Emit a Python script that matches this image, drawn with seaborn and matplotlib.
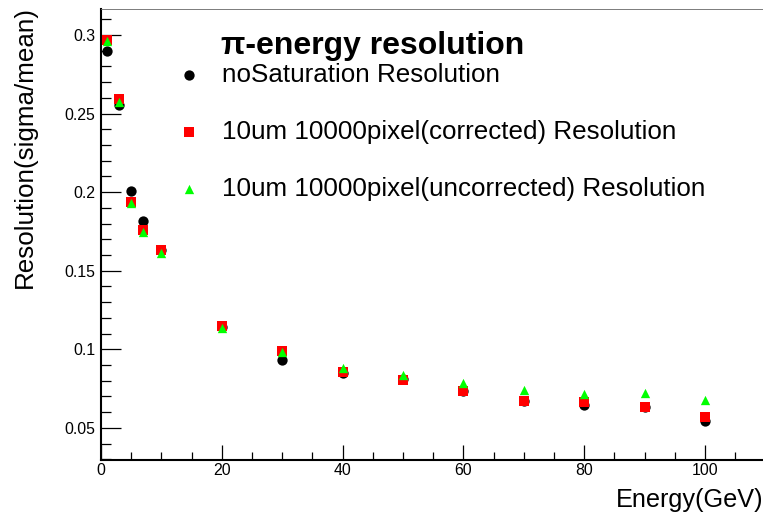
import matplotlib
matplotlib.use("Agg")
import matplotlib.pyplot as plt
import seaborn as sns
import pandas as pd
from matplotlib.ticker import MultipleLocator

# Beam energies (GeV)
energy = [1, 3, 5, 7, 10, 20, 30, 40, 50, 60, 70, 80, 90, 100]

# Energy resolution (sigma/mean) for each configuration
res_nosat = [0.2896, 0.2555, 0.2006, 0.1817, 0.1630, 0.1140, 0.0933,
             0.0848, 0.0810, 0.0737, 0.0670, 0.0646, 0.0635, 0.0545]
res_corrected = [0.2968, 0.2593, 0.1938, 0.1760, 0.1632, 0.1149, 0.0990,
                 0.0858, 0.0805, 0.0737, 0.0670, 0.0667, 0.0632, 0.0572]
res_uncorrected = [0.2964, 0.2572, 0.1933, 0.1749, 0.1615, 0.1136, 0.0985,
                   0.0884, 0.0837, 0.0784, 0.0742, 0.0716, 0.0725, 0.0678]

labels = ["noSaturation Resolution",
          "10um 10000pixel(corrected) Resolution",
          "10um 10000pixel(uncorrected) Resolution"]
title = "\u03c0-energy resolution"

xtick_vals = [0, 20, 40, 60, 80, 100]
xtick_labels = ["0", "20", "40", "60", "80", "100"]
ytick_vals = [0.05, 0.1, 0.15, 0.2, 0.25, 0.3]
ytick_labels = ["0.05", "0.1", "0.15", "0.2", "0.25", "0.3"]

sns.set_style("ticks")
plt.rcParams["font.family"] = ["Liberation Sans", "DejaVu Sans"]
plt.rcParams["text.color"] = "black"
plt.rcParams["axes.labelcolor"] = "black"
plt.rcParams["xtick.color"] = "black"
plt.rcParams["ytick.color"] = "black"

W, H = 763, 516
fig = plt.figure(figsize=(W / 100, H / 100), dpi=100)
ax = fig.add_axes([101 / W, 56 / H, 664.4 / W, 451 / H])

df_nosat = pd.DataFrame({"E": energy, "res": res_nosat})
df_corr = pd.DataFrame({"E": energy, "res": res_corrected})
df_unc = pd.DataFrame({"E": energy, "res": res_uncorrected})

sns.scatterplot(data=df_nosat, x="E", y="res", ax=ax, marker="o", s=55,
                color="black", linewidth=0, label=labels[0], zorder=3)
sns.scatterplot(data=df_corr, x="E", y="res", ax=ax, marker="s", s=47,
                color="#ff0000", linewidth=0, label=labels[1], zorder=4)
sns.scatterplot(data=df_unc, x="E", y="res", ax=ax, marker="^", s=45,
                color="#00ff00", linewidth=0, label=labels[2], zorder=5)

ax.set_xlim(0, 110)
ax.set_ylim(0.0296, 0.3165)

ax.xaxis.set_minor_locator(MultipleLocator(5))
ax.yaxis.set_minor_locator(MultipleLocator(0.01))
ax.set_xticks(xtick_vals)
ax.set_xticklabels(xtick_labels)
ax.set_yticks(ytick_vals)
ax.set_yticklabels(ytick_labels)

ax.tick_params(axis="x", which="major", direction="in", length=10.8, width=0.9,
               labelsize=11.4, pad=2)
ax.tick_params(axis="x", which="minor", direction="in", length=5.5, width=0.9)
ax.tick_params(axis="y", which="major", direction="in", length=14.4, width=0.9,
               labelsize=11.4, pad=4)
ax.tick_params(axis="y", which="minor", direction="in", length=7.2, width=0.9)

for side in ("left", "bottom"):
    ax.spines[side].set_linewidth(1.5)
    ax.spines[side].set_color("black")
ax.spines["top"].set_visible(True)
ax.spines["top"].set_linewidth(0.6)
ax.spines["top"].set_color("#666666")
ax.spines["right"].set_visible(False)

ax.set_xlabel("Energy(GeV)", fontsize=18.2, ha="right", va="center")
ax.xaxis.set_label_coords((764 - 101) / 664.4, -(500 - 460) / 451)
ax.set_ylabel("Resolution(sigma/mean)", fontsize=18.7, ha="right", va="center")
ax.yaxis.set_label_coords((25 - 101) / 664.4, (460 - 6) / 451)

leg = ax.legend(loc="upper left", bbox_to_anchor=(179 / W, 1 - 62.5 / H),
                bbox_transform=fig.transFigure, frameon=False, fontsize=18.7,
                handlelength=0.8, handletextpad=0.85, labelspacing=1.28,
                borderpad=0, borderaxespad=0, scatterpoints=1, markerscale=1.0)

fig.text(221 / W, 1 - 54.3 / H, title, fontsize=23, fontweight="bold",
         ha="left", va="baseline")

fig.savefig("out.png", dpi=100)
